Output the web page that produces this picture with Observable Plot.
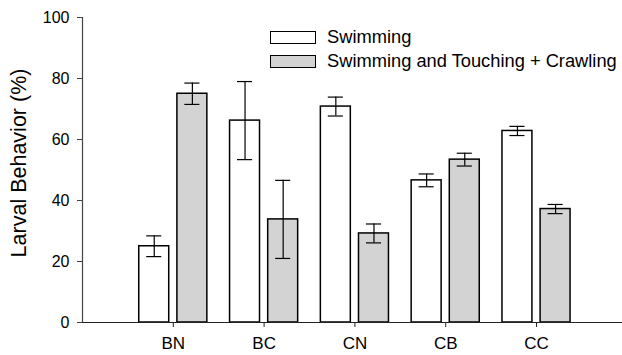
<!DOCTYPE html>
<html><head><meta charset="utf-8">
<script src="https://cdn.jsdelivr.net/npm/d3@7"></script>
<script src="https://cdn.jsdelivr.net/npm/@observablehq/plot@0.6"></script>
<style>
body{margin:0;background:#fff;font-family:"Liberation Sans",Arial,sans-serif;}
#wrap{position:relative;width:622px;height:355px;}
#legend{position:absolute;left:270px;top:25px;font-size:18.3px;color:#000;line-height:1;}
.row{display:flex;align-items:center;height:24px;}
.sw{width:44px;height:11px;border:1px solid #000;margin-right:11px;flex:none;}
</style></head><body><div id="wrap"><div id="legend"></div></div>
<script>
const categories = ["BN", "BC", "CN", "CB", "CC"];
const series = ["Swimming", "Swimming and Touching + Crawling"];
const swimming = [25.0, 66.2, 70.8, 46.6, 62.8];
const swimmingErr = [3.4, 12.8, 3.1, 2.1, 1.5];
const touching = [75.0, 33.8, 29.2, 53.4, 37.2];
const touchingErr = [3.5, 12.8, 3.1, 2.1, 1.5];
const fills = ["#ffffff", "#d3d3d3"];
const yTicks = [0, 20, 40, 60, 80, 100];
const yLabel = "Larval Behavior (%)";

// layout in category-step units
const groupOffset = 0.21, barHalf = 0.165, capHalf = 0.083;

const values = [swimming, touching];
const errs = [swimmingErr, touchingErr];
const rows = [];
categories.forEach((c, i) => {
  series.forEach((s, k) => {
    rows.push({cat: c, series: s, k, pos: (i + 1) + (k === 0 ? -groupOffset : groupOffset),
      value: values[k][i], err: errs[k][i]});
  });
});
const positions = categories.map((c, i) => i + 1);

const chart = Plot.plot({
  width: 622, height: 355,
  marginLeft: 82, marginRight: 0, marginTop: 17, marginBottom: 33,
  style: {fontFamily: '"Liberation Sans", Arial, sans-serif', fontSize: "16px", color: "#000", background: "#fff"},
  x: {type: "linear", domain: [0, 5.947]},
  y: {domain: [0, 100]},
  marks: [
    Plot.rect(rows, {x1: d => d.pos - barHalf, x2: d => d.pos + barHalf, y1: 0, y2: "value",
      fill: d => fills[d.k], stroke: "#000", strokeWidth: 1.5}),
    Plot.ruleX(rows, {x: "pos", y1: d => d.value - d.err, y2: d => d.value + d.err, stroke: "#000", strokeWidth: 1.2}),
    Plot.ruleY(rows, {y: d => d.value + d.err, x1: d => d.pos - capHalf, x2: d => d.pos + capHalf, stroke: "#000", strokeWidth: 1.2}),
    Plot.ruleY(rows, {y: d => d.value - d.err, x1: d => d.pos - capHalf, x2: d => d.pos + capHalf, stroke: "#000", strokeWidth: 1.2}),
    Plot.ruleY([0], {stroke: "#222", strokeWidth: 1.2}),
    Plot.ruleX([0], {y1: 0, y2: 100, stroke: "#444", strokeWidth: 1.2}),
    Plot.axisY({ticks: yTicks, tickSize: 5, tickPadding: 8, stroke: "#444", fontSize: 16, label: null}),
    Plot.text([yLabel], {frameAnchor: "left", textAnchor: "middle", rotate: -90, dx: -63, dy: -7, fontSize: 21.5, fill: "#000"}),
    Plot.axisX({ticks: positions, tickFormat: d => categories[d - 1], tickSize: 5, tickPadding: 9,
      stroke: "#222", fontSize: 17, label: null})
  ]
});
const wrap = document.getElementById("wrap");
wrap.insertBefore(chart, wrap.firstChild);
const legend = document.getElementById("legend");
series.forEach((s, k) => {
  const row = document.createElement("div");
  row.className = "row";
  const sw = document.createElement("div");
  sw.className = "sw";
  sw.style.background = fills[k];
  const lab = document.createElement("span");
  lab.textContent = s;
  row.appendChild(sw); row.appendChild(lab);
  legend.appendChild(row);
});
</script></body></html>
